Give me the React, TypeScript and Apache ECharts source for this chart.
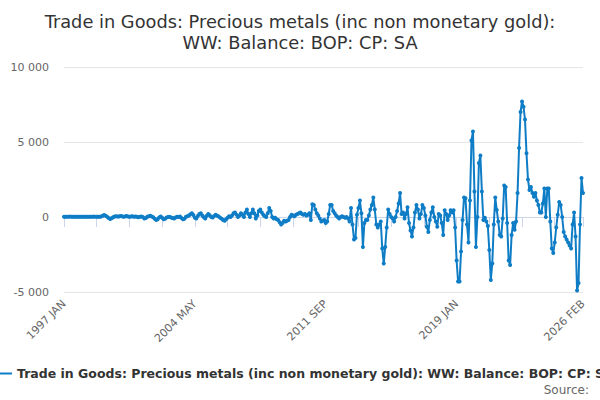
import React, { useEffect, useRef } from "react";
import * as echarts from "echarts";

const TITLE = "Trade in Goods: Precious metals (inc non monetary gold):\nWW: Balance: BOP: CP: SA";
const SERIES_NAME = "Trade in Goods: Precious metals (inc non monetary gold): WW: Balance: BOP: CP: SA";
const MONTHS = ["JAN", "FEB", "MAR", "APR", "MAY", "JUN", "JUL", "AUG", "SEP", "OCT", "NOV", "DEC"];
const FIRST_YEAR = 1997;

const v1997 = [20, 15, 10, 20, 25, 15, 10, 20, 15, 10, 20, 15];
const v1998 = [15, 20, 10, 15, 20, 10, 15, 20, 25, 15, 10, 20];
const v1999 = [15, 40, 90, 130, 80, 20, -60, -130, -90, -20, 30, 50];
const v2000 = [40, 30, 60, 50, 20, 40, 60, 30, 10, 40, 50, 20];
const v2001 = [30, 10, -20, 20, 40, 0, -100, -60, 20, 50, 80, 30];
const v2002 = [-20, -120, -200, -150, -30, 40, -50, -150, -120, -30, 0, 20];
const v2003 = [-30, -60, -100, -40, 20, 0, 30, -60, -150, -110, 20, 50];
const v2004 = [100, 180, 250, 130, -50, -100, 60, 200, 250, 100, -20, -100];
const v2005 = [80, 200, 120, 0, -30, 60, 150, 90, 40, -50, -120, -200];
const v2006 = [-250, -150, -50, 50, 0, 100, 250, 300, 150, 0, 100, 250];
const v2007 = [150, 0, 300, 500, 200, 0, 250, 500, 250, -100, 100, 400];
const v2008 = [500, 300, 150, 50, 0, 250, 600, 400, 0, -100, -50, -150];
const v2009 = [-200, -350, -500, -400, -250, -300, -250, -200, 0, 150, 100, 50];
const v2010 = [150, 200, 250, 300, 200, 150, 200, 100, 150, 250, -200, 850];
const v2011 = [800, 500, 250, 100, -100, -300, -250, -200, -400, -300, 200, 800];
const v2012 = [800, 400, 250, 100, 0, -100, 0, 50, 0, -50, 0, -100];
const v2013 = [-300, 600, -500, -1500, -1400, 150, 600, 1100, 250, -2000, -400, -200];
const v2014 = [-200, 100, 500, 800, 1300, 500, -500, -700, -500, -300, -2100, -3100];
const v2015 = [-2000, -700, 500, 200, 0, -100, -300, 0, 400, 900, 1600, 200];
const v2016 = [300, -100, 200, 650, -400, -900, -1300, -700, 300, 800, 500, -100];
const v2017 = [200, 800, 600, 100, -650, -1000, -200, 300, 650, 0, -300, -650];
const v2018 = [200, 100, -400, -1200, 450, 200, -200, 100, 450, 300, 450, -700];
const v2019 = [-2900, -4300, -4300, -2300, -200, 1300, 1250, -500, -1700, 1100, 5100, 5700];
const v2020 = [1700, -2000, 0, 3600, 4100, 1700, -200, -50, -300, -600, -2200, -4200];
const v2021 = [-3100, -500, 1300, 470, -300, -1200, -1300, -100, 2100, 2000, -400, -2900];
const v2022 = [-3200, -1200, -400, -850, -300, 1600, 4600, 7000, 7700, 7350, 6500, 4250];
const v2023 = [2500, 1800, 2000, 1600, 1350, 1600, 1100, 800, 300, 300, 900, 1900];
const v2024 = [0, 1900, 1900, -300, -2100, -2400, -1700, -700, 150, 1000, 800, 0];
const v2025 = [-1000, -1300, -1500, -1700, -1900, -2100, -500, 300, -1300, -4900, -4400, -500];
const v2026 = [2600, 1600];

const YEARLY = [
  v1997, v1998, v1999, v2000, v2001, v2002, v2003, v2004, v2005, v2006,
  v2007, v2008, v2009, v2010, v2011, v2012, v2013, v2014, v2015, v2016,
  v2017, v2018, v2019, v2020, v2021, v2022, v2023, v2024, v2025, v2026,
];

const Y_MIN = -5000;
const Y_MAX = 10000;
const Y_STEP = 5000;
const TICK_EVERY = 22;
const LABEL_EVERY = 88;

const FONT = "'DejaVu Sans', Verdana, sans-serif";

function fmt(v: number): string {
  const s = Math.abs(v).toString().replace(/\B(?=(\d{3})+(?!\d))/g, " ");
  return (v < 0 ? "-" : "") + s;
}

export default function App() {
  const ref = useRef<HTMLDivElement>(null);
  useEffect(() => {
    if (!ref.current) return;
    const categories: string[] = [];
    const values: number[] = [];
    YEARLY.forEach((arr, yi) => {
      arr.forEach((v, mi) => {
        categories.push(`${FIRST_YEAR + yi} ${MONTHS[mi]}`);
        values.push(v);
      });
    });
    const last = categories.length - 1;
    const chart = echarts.init(ref.current, undefined, { renderer: "svg" });
    chart.setOption({
      animation: false,
      textStyle: { fontFamily: FONT },
      title: {
        text: TITLE,
        left: "center",
        top: 6,
        textStyle: { fontFamily: FONT, fontSize: 17.8, fontWeight: "normal", color: "#333333", lineHeight: 21 },
      },
      legend: {
        left: -9,
        top: 362,
        itemWidth: 16,
        itemHeight: 10,
        itemGap: 5,
        icon: "path://M0,4 L16,4 L16,6 L0,6 Z",
        textStyle: { fontFamily: FONT, fontSize: 12.5, fontWeight: "bold", color: "#333333" },
        data: [SERIES_NAME],
      },
      graphic: [
        {
          type: "text",
          right: 11,
          top: 384,
          style: { text: "Source:", fontFamily: FONT, fontSize: 12, fill: "#666666" },
        },
      ],
      grid: { left: 64, right: 17, top: 67, bottom: 108, containLabel: false },
      xAxis: {
        type: "category",
        data: categories,
        boundaryGap: false,
        axisLine: { lineStyle: { color: "#ccd6eb", width: 1 } },
        axisTick: {
          show: true,
          length: 10,
          lineStyle: { color: "#ccd6eb" },
          interval: (i: number) => i % TICK_EVERY === 0 || i === last,
        },
        axisLabel: {
          rotate: 45,
          margin: 10,
          color: "#666666",
          fontSize: 11,
          fontFamily: FONT,
          interval: (i: number) => i % LABEL_EVERY === 0 || i === last,
        },
        splitLine: { show: false },
      },
      yAxis: {
        type: "value",
        min: Y_MIN,
        max: Y_MAX,
        interval: Y_STEP,
        axisLine: { show: false },
        axisTick: { show: false },
        axisLabel: {
          color: "#666666",
          fontSize: 11,
          fontFamily: FONT,
          margin: 15,
          formatter: (v: number) => fmt(v),
        },
        splitLine: { lineStyle: { color: "#e6e6e6", width: 1 } },
      },
      series: [
        {
          name: SERIES_NAME,
          type: "line",
          data: values,
          color: "#0f7dc6",
          lineStyle: { width: 2, color: "#0f7dc6" },
          symbol: "circle",
          symbolSize: 4,
          showSymbol: true,
          showAllSymbol: true,
          itemStyle: { color: "#0f7dc6" },
        },
      ],
    });
    return () => chart.dispose();
  }, []);
  return (
    <div
      ref={ref}
      style={{ position: "fixed", left: 0, top: 0, width: 600, height: 400, background: "#ffffff" }}
    />
  );
}
